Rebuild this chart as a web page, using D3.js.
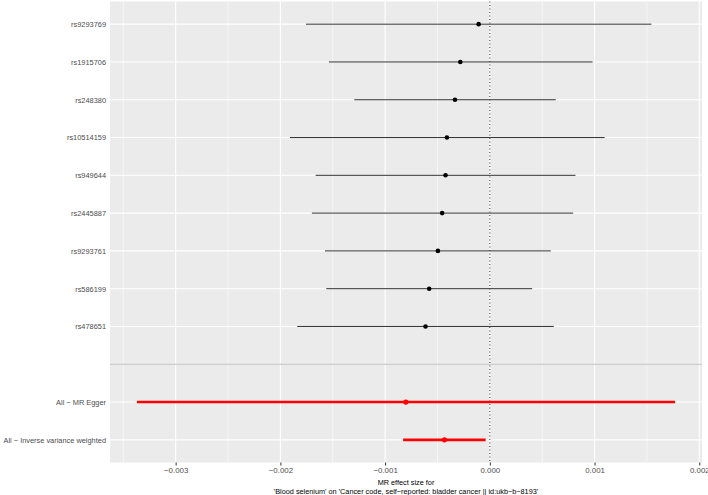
<!DOCTYPE html>
<meta charset="utf-8">
<style>
  body { margin: 0; background: #fff; }
  svg { display: block; }
  text { font-family: 'Liberation Sans', Arial, sans-serif; }
</style>
<script src="https://d3js.org/d3.v7.min.js"></script>
<svg width="708" height="495"></svg>
<script>
// rows top to bottom; "" is the empty row holding the grey separator
var snps = ["rs9293769", "rs1915706", "rs248380", "rs10514159", "rs949644",
  "rs2445887", "rs9293761", "rs586199", "rs478651", "",
  "All \u2212 MR Egger", "All \u2212 Inverse variance weighted"];
var est = [-0.000107, -0.000282, -0.000333, -0.00041, -0.000423,
  -0.000455, -0.000496, -0.000579, -0.000614, null, -0.000802, -0.000433];
var lower = [-0.001756, -0.001536, -0.001294, -0.001909, -0.001663,
  -0.001699, -0.001574, -0.001562, -0.001839, null, -0.00337, -0.000828];
var upper = [0.001543, 0.000981, 0.00063, 0.001096, 0.000818,
  0.000796, 0.000582, 0.000404, 0.000611, null, 0.001769, -0.00004];
var isSummary = [0, 0, 0, 0, 0, 0, 0, 0, 0, 0, 1, 1];
var xTicks = [-0.003, -0.002, -0.001, 0, 0.001, 0.002];
var xMinor = [-0.0035, -0.0025, -0.0015, -0.0005, 0.0005, 0.0015];

var svg = d3.select("svg"),
    pL = 110, pR = 702, pT = 1.5, pB = 462.5;

var rows = snps.map(function(s, i) {
  return {snp: s, b: est[i], lo: lower[i], hi: upper[i], sum: isSummary[i]};
});
var data = rows.filter(function(d) { return d.b !== null; });

var lo = d3.min(data, function(d) { return d.lo; }),
    hi = d3.max(data, function(d) { return d.hi; }),
    pad = (hi - lo) * 0.05;

var x = d3.scaleLinear().domain([lo - pad, hi + pad]).range([pL, pR]);
var y = d3.scalePoint().domain(snps).range([pT, pB]).padding(0.6);

// panel
svg.append("rect")
  .attr("x", pL).attr("y", pT)
  .attr("width", pR - pL).attr("height", pB - pT)
  .attr("fill", "#ebebeb");

var grid = svg.append("g");
grid.selectAll(".minor").data(xMinor).enter().append("line")
  .attr("x1", x).attr("x2", x).attr("y1", pT).attr("y2", pB)
  .attr("stroke", "#fff").attr("stroke-width", 0.55);
grid.selectAll(".major").data(xTicks).enter().append("line")
  .attr("x1", x).attr("x2", x).attr("y1", pT).attr("y2", pB)
  .attr("stroke", "#fff").attr("stroke-width", 1.1);
grid.selectAll(".hgrid").data(snps).enter().append("line")
  .attr("x1", pL).attr("x2", pR)
  .attr("y1", function(d) { return y(d); }).attr("y2", function(d) { return y(d); })
  .attr("stroke", "#fff").attr("stroke-width", 1.1);

// separator between single SNPs and summary rows
svg.append("line")
  .attr("x1", pL).attr("x2", pR)
  .attr("y1", y("")).attr("y2", y(""))
  .attr("stroke", "#bebebe").attr("stroke-width", 1.1);

// null effect
svg.append("line")
  .attr("x1", x(0)).attr("x2", x(0)).attr("y1", pT).attr("y2", pB)
  .attr("stroke", "#000").attr("stroke-width", 0.8)
  .attr("stroke-dasharray", "1,2.5");

var marks = svg.append("g");
marks.selectAll(".ci").data(data).enter().append("line")
  .attr("x1", function(d) { return x(d.lo); })
  .attr("x2", function(d) { return x(d.hi); })
  .attr("y1", function(d) { return y(d.snp); })
  .attr("y2", function(d) { return y(d.snp); })
  .attr("stroke", function(d) { return d.sum ? "#ff0000" : "#333"; })
  .attr("stroke-width", function(d) { return d.sum ? 2.6 : 1; });
marks.selectAll(".pt").data(data).enter().append("circle")
  .attr("cx", function(d) { return x(d.b); })
  .attr("cy", function(d) { return y(d.snp); })
  .attr("r", function(d) { return d.sum ? 2.6 : 2.3; })
  .attr("fill", function(d) { return d.sum ? "#ff0000" : "#000"; });

// axes
var xAxis = svg.append("g")
  .attr("transform", "translate(0," + pB + ")")
  .call(d3.axisBottom(x).tickValues(xTicks).tickSize(3).tickPadding(2)
    .tickFormat(function(d) { return d3.format(".3f")(d).replace("-", "\u2212"); }));
xAxis.select(".domain").remove();
xAxis.selectAll(".tick line").attr("stroke", "#333").attr("stroke-width", 1);
xAxis.selectAll(".tick text").attr("fill", "#4d4d4d")
  .style("font-size", "7.9px").style("font-family", "'Liberation Sans', Arial, sans-serif");

var yAxis = svg.append("g")
  .attr("transform", "translate(" + pL + ",0)")
  .call(d3.axisLeft(y).tickSize(0).tickPadding(4));
yAxis.select(".domain").remove();
yAxis.selectAll(".tick line").remove();
yAxis.selectAll(".tick text").attr("fill", "#4d4d4d")
  .style("font-size", "7.4px").style("font-family", "'Liberation Sans', Arial, sans-serif");

// axis title
var cx = (pL + pR) / 2;
svg.append("text").attr("x", cx).attr("y", 484.5)
  .attr("text-anchor", "middle").attr("font-size", 7.3).attr("fill", "#000")
  .text("MR effect size for");
svg.append("text").attr("x", cx).attr("y", 493.5)
  .attr("text-anchor", "middle").attr("font-size", 7.3).attr("fill", "#000")
  .text("'Blood selenium' on 'Cancer code, self\u2212reported: bladder cancer || id:ukb\u2212b\u22128193'");
</script>
